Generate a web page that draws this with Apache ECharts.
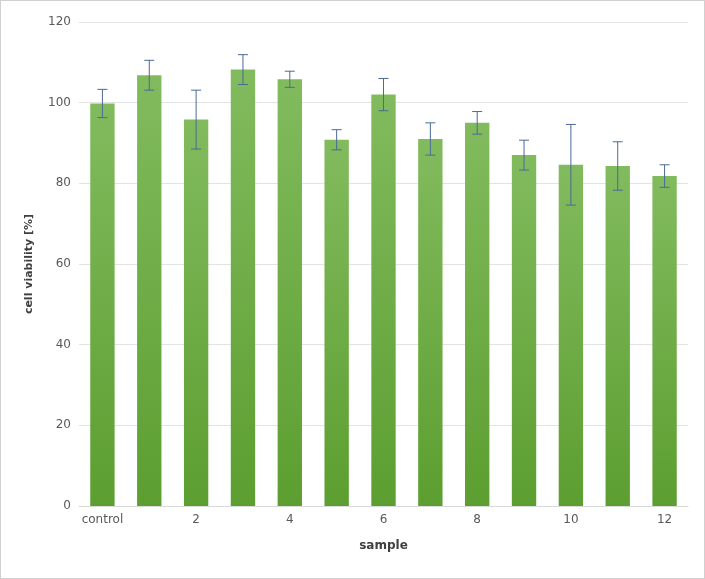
<!DOCTYPE html>
<html><head><meta charset="utf-8">
<script src="https://cdn.jsdelivr.net/npm/echarts@6/dist/echarts.min.js"></script>
<style>html,body{margin:0;padding:0;background:#fff}#c{width:705px;height:579px;box-sizing:border-box;border:1px solid #d0d0d0}</style>
</head><body><div id="c"></div>
<script>
const categories=['control','1','2','3','4','5','6','7','8','9','10','11','12'];
const values=[99.8,106.8,95.8,108.2,105.8,90.8,102,91,95,87,84.6,84.3,81.8];
const errors=[3.5,3.7,7.3,3.7,2,2.5,4,4,2.8,3.7,10,6,2.8];
const chart=echarts.init(document.getElementById('c'));
chart.setOption({
  animation:false,
  grid:{left:78,right:16,top:21,bottom:72},
  xAxis:{type:'category',data:categories,name:'sample',nameLocation:'middle',nameGap:34,
    nameTextStyle:{fontWeight:'bold',fontSize:12,color:'#404040',fontFamily:'DejaVu Sans'},
    axisTick:{show:false},axisLine:{lineStyle:{color:'#d9d9d9'}},
    axisLabel:{color:'#595959',fontSize:12,fontFamily:'DejaVu Sans'}},
  yAxis:{type:'value',min:0,max:120,interval:20,name:'cell viability [%]',nameLocation:'middle',nameGap:44,
    nameTextStyle:{fontWeight:'bold',fontSize:11,color:'#404040',fontFamily:'DejaVu Sans'},
    axisLabel:{color:'#595959',fontSize:12,fontFamily:'DejaVu Sans'},
    splitLine:{lineStyle:{color:'#e3e3e3'}}},
  series:[
    {type:'bar',data:values,barWidth:'52%',
      itemStyle:{color:new echarts.graphic.LinearGradient(0,0,0,1,[{offset:0,color:'#82bb5e'},{offset:1,color:'#5c9e30'}])}},
    {type:'custom',data:values.map((v,i)=>[i,v,errors[i]]),z:10,
      renderItem:(p,api)=>{
        const i=api.value(0),v=api.value(1),e=api.value(2);
        const hi=api.coord([i,v+e]),lo=api.coord([i,v-e]);
        const w=5;
        const st={stroke:'#4a6a96',lineWidth:1};
        return {type:'group',children:[
          {type:'line',shape:{x1:hi[0],y1:hi[1],x2:lo[0],y2:lo[1]},style:st},
          {type:'line',shape:{x1:hi[0]-w,y1:hi[1],x2:hi[0]+w,y2:hi[1]},style:st},
          {type:'line',shape:{x1:lo[0]-w,y1:lo[1],x2:lo[0]+w,y2:lo[1]},style:st}]};
      }}
  ]
});
</script></body></html>
